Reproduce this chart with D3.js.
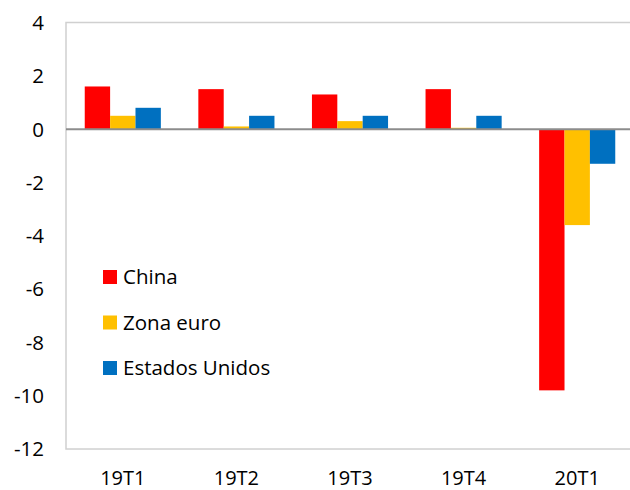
<!DOCTYPE html>
<html>
<head>
<meta charset="utf-8">
<script src="https://cdn.jsdelivr.net/npm/d3@7"></script>
<style>
  body { margin: 0; background: #fff; }
  text { font-family: "Open Sans", "Noto Sans", sans-serif; fill: #000; }
</style>
</head>
<body>
<script>
const categories = ['19T1', '19T2', '19T3', '19T4', '20T1'];
const seriesNames = ['China', 'Zona euro', 'Estados Unidos'];
const china = [1.6, 1.5, 1.3, 1.5, -9.8];
const zonaEuro = [0.5, 0.1, 0.3, 0.05, -3.6];
const estadosUnidos = [0.8, 0.5, 0.5, 0.5, -1.3];
const yTicks = [4, 2, 0, -2, -4, -6, -8, -10, -12];
const colors = ['#ff0000', '#ffc000', '#0070c0'];

const seriesValues = [china, zonaEuro, estadosUnidos];

const width = 630, height = 490;
const margin = { top: 22.5, right: -4, bottom: 41, left: 66 };

const svg = d3.select('body').append('svg')
  .attr('width', width)
  .attr('height', height);

const x = d3.scaleBand()
  .domain(categories)
  .range([margin.left, width - margin.right])
  .paddingInner(0.33)
  .paddingOuter(0.165);

const x1 = d3.scaleBand()
  .domain(seriesNames)
  .range([0, x.bandwidth()]);

const y = d3.scaleLinear()
  .domain([-12, 4])
  .range([height - margin.bottom, margin.top]);

// plot border
svg.append('rect')
  .attr('x', margin.left)
  .attr('y', y(4))
  .attr('width', width - margin.right - margin.left)
  .attr('height', y(-12) - y(4))
  .attr('fill', 'none')
  .attr('stroke', '#d0d0d0')
  .attr('stroke-width', 1.5);

// bars
seriesNames.forEach((name, i) => {
  svg.append('g')
    .selectAll('rect')
    .data(categories)
    .join('rect')
    .attr('x', c => x(c) + x1(name))
    .attr('width', x1.bandwidth())
    .attr('y', (c, j) => y(Math.max(0, seriesValues[i][j])))
    .attr('height', (c, j) => Math.abs(y(seriesValues[i][j]) - y(0)))
    .attr('fill', colors[i]);
});

// zero line
svg.append('line')
  .attr('x1', margin.left)
  .attr('x2', width)
  .attr('y1', y(0))
  .attr('y2', y(0))
  .attr('stroke', '#8c8c8c')
  .attr('stroke-width', 2);

// y tick labels
svg.append('g')
  .selectAll('text')
  .data(yTicks)
  .join('text')
  .attr('x', 44)
  .attr('y', d => y(d))
  .attr('dy', '0.36em')
  .attr('text-anchor', 'end')
  .style('font-size', '20.5px')
  .text(d => d);

// x labels
svg.append('g')
  .selectAll('text')
  .data(categories)
  .join('text')
  .attr('x', c => x(c) + x.bandwidth() / 2)
  .attr('y', 478)
  .attr('dy', '0.36em')
  .attr('text-anchor', 'middle')
  .style('font-size', '20px')
  .text(c => c);

// legend
const legend = svg.append('g')
  .selectAll('g')
  .data(seriesNames)
  .join('g')
  .attr('transform', (d, i) => `translate(103, ${277 + i * 45.5})`);

legend.append('rect')
  .attr('x', 0)
  .attr('y', -7)
  .attr('width', 14)
  .attr('height', 14)
  .attr('fill', (d, i) => colors[i]);

legend.append('text')
  .attr('x', 20)
  .attr('y', 0)
  .attr('dy', '0.36em')
  .style('font-size', '20.5px')
  .text(d => d);
</script>
</body>
</html>
